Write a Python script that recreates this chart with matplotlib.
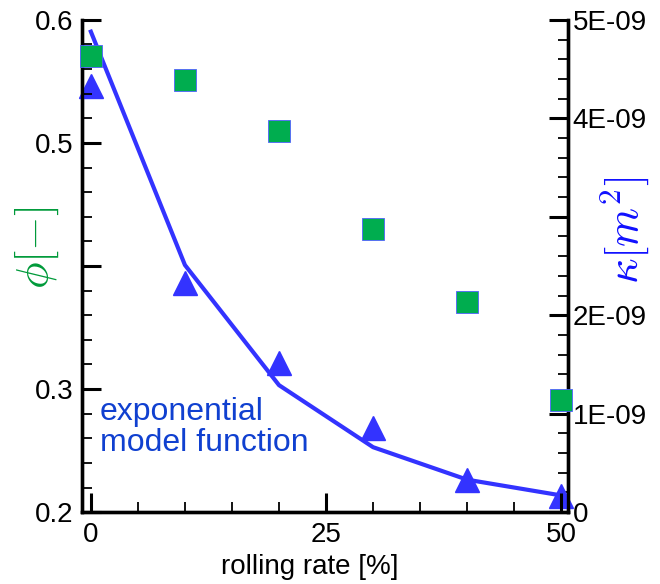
import matplotlib.pyplot as plt
from matplotlib.ticker import MultipleLocator
import numpy as np

plt.rcParams['font.family'] = ['Liberation Sans', 'DejaVu Sans']
plt.rcParams['mathtext.fontset'] = 'cm'

# data
rolling_rate = [0, 10, 20, 30, 40, 50]
porosity = [0.571, 0.551, 0.510, 0.430, 0.371, 0.291]
permeability = [4.33e-9, 2.33e-9, 1.52e-9, 0.85e-9, 0.33e-9, 0.16e-9]
model_permeability = [4.88e-9, 2.51e-9, 1.29e-9, 0.66e-9, 0.33e-9, 0.17e-9]

phi_ticks = [0.2, 0.3, 0.4, 0.5, 0.6]
phi_labels = ['0.2', '0.3', '', '0.5', '0.6']
kappa_ticks = [0, 1e-9, 2e-9, 3e-9, 4e-9, 5e-9]
kappa_labels = ['0', '1E-09', '2E-09', '', '4E-09', '5E-09']
x_ticks = [0, 25, 50]

green = '#00ad4f'
blue = '#3333ff'

fig = plt.figure(figsize=(6.6, 5.84), dpi=100)
ax = fig.add_axes([0.124, 0.123, 0.737, 0.843])
ax2 = ax.twinx()

# model line and triangles on the right axis
ax2.plot(rolling_rate, model_permeability, color=blue, lw=3, zorder=2, clip_on=False)
ax2.plot(rolling_rate, permeability, ls='none', marker='^', ms=17, color=blue,
         zorder=3, clip_on=False)
# squares on the left axis, drawn on top
ax.plot(rolling_rate, porosity, ls='none', marker='s', ms=16, color=green,
        mec='#5060ff', mew=0.6, zorder=4, clip_on=False)
ax.set_zorder(ax2.get_zorder() + 1)
ax.patch.set_visible(False)

ax.set_xlim(-0.96, 50.75)
ax.set_ylim(0.2, 0.6)
ax2.set_ylim(0, 5e-9)

ax.set_xticks(x_ticks)
ax.xaxis.set_minor_locator(MultipleLocator(5))
ax.set_yticks(phi_ticks)
ax.set_yticklabels(phi_labels)
ax.yaxis.set_minor_locator(MultipleLocator(0.02))
ax2.set_yticks(kappa_ticks)
ax2.set_yticklabels(kappa_labels)
ax2.yaxis.set_minor_locator(MultipleLocator(0.2e-9))

for a in (ax, ax2):
    a.tick_params(which='major', direction='in', length=14, width=2.2, labelsize=20, pad=6)
    a.tick_params(which='minor', direction='in', length=7, width=1.3)
    a.spines['top'].set_visible(False)
    for s in ('left', 'right', 'bottom'):
        a.spines[s].set_linewidth(2.4)
ax.tick_params(axis='x', pad=7)
ax2.tick_params(axis='y', pad=3)

ax.set_xlabel('rolling rate [%]', fontsize=20)
ax.xaxis.set_label_coords(0.469, -0.085)
# axis titles placed by hand so they stay inside the figure
fig.text(0.055, 0.575, r'$\phi[-]$', fontsize=32, color='#009a3a',
         rotation=90, ha='center', va='center')
fig.text(0.948, 0.605, r'$\kappa[m^2]$', fontsize=32, color='#1010ff',
         rotation=90, ha='center', va='center')

ax.text(0.96, 0.269, 'exponential\nmodel function', fontsize=23, color='#1040d0',
        linespacing=1.05, va='center', ha='left')

fig.savefig('out.png', dpi=100)
